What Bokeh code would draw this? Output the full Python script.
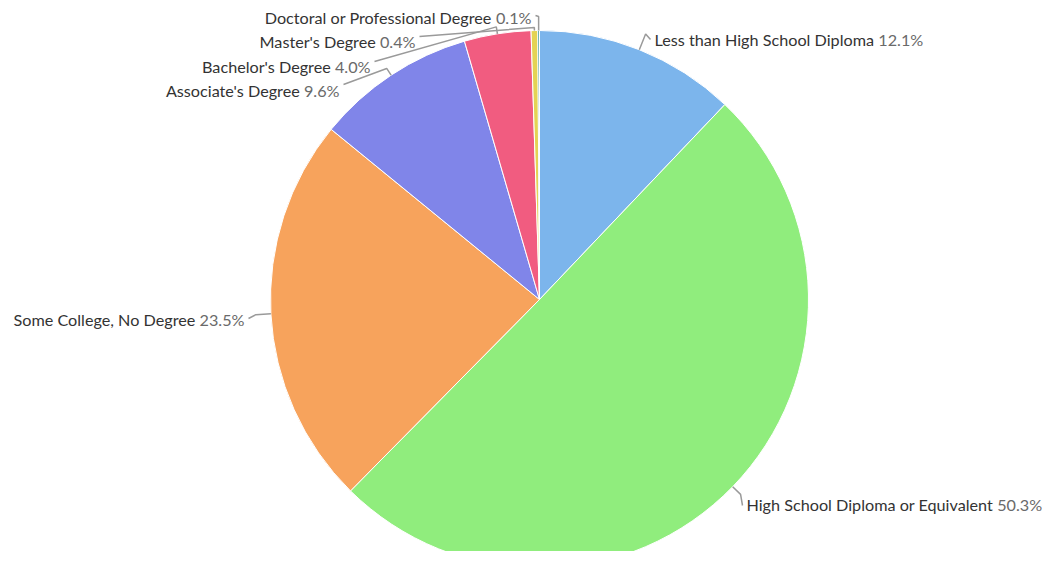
import math, glob
from bokeh.plotting import figure
from bokeh.models import Range1d, ColumnDataSource
from bokeh.core.properties import value
from bokeh.embed import file_html
from bokeh.resources import INLINE

# ---------------- data ----------------
categories = [
    "Less than High School Diploma",
    "High School Diploma or Equivalent",
    "Some College, No Degree",
    "Associate's Degree",
    "Bachelor's Degree",
    "Master's Degree",
    "Doctoral or Professional Degree",
]
shares = [12.1, 50.3, 23.5, 9.6, 4.0, 0.4, 0.1]
colors = ["#7cb5ec", "#90ed7d", "#f7a35c", "#8085e9", "#f15c80", "#e4d354", "#2b908f"]

# ---------------- layout ----------------
W, H = 1044, 551
CXp, CYp, R = 539, 299, 269          # picture pixel centre / radius
label_side = ["right", "right", "left", "left", "left", "left", "left"]
label_x = [654, 746, 244, 339, 370, 415, 531]      # text start (right side) / end (left side)
label_base = [39, 504, 319, 90, 65.5, 40.5, 16.5]  # baseline
conn_y = [39, 505, 318, 84, 61, 36, 15]            # connector end y
conn_out = [17, 11, 15, 8, 7, 3, 14]
FONT = "Lato"

def dx(px):
    return px

def dy(py):
    return H - py

# text width measurement
_font = None
try:
    from PIL import ImageFont
    files = glob.glob("/usr/share/fonts/**/Lato-Regular.ttf", recursive=True)
    if files:
        _font = ImageFont.truetype(files[0], 100)
except Exception:
    _font = None

def tw100(s):
    if _font is not None:
        return _font.getlength(s)
    return len(s) * 100 * 0.47

# choose size so the first label name spans the same width as in the reference
FS = round(220.0 * 100.0 / tw100(categories[0]), 1)
FS = max(14.0, min(FS, 19.0))

def tw(s):
    return tw100(s) * FS / 100.0

total = sum(shares)
cum = [0.0]
for s in shares:
    cum.append(cum[-1] + s)
starts = [math.pi / 2 - 2 * math.pi * cum[i] / total for i in range(len(shares))]
ends = [math.pi / 2 - 2 * math.pi * cum[i + 1] / total for i in range(len(shares))]

cx, cy = dx(CXp), dy(CYp)

src = ColumnDataSource(dict(start=starts, end=ends, color=colors, name=categories))

p = figure(width=W, height=H, x_range=Range1d(0, W), y_range=Range1d(0, H),
           output_backend="svg", toolbar_location=None,
           x_axis_location=None, y_axis_location=None, min_border=0)
p.grid.visible = False
p.outline_line_color = None
p.background_fill_color = "white"

p.wedge(x=cx, y=cy, radius=R, start_angle="start", end_angle="end", direction="clock",
        fill_color="color", line_color="white", line_width=1, source=src)

xs, ys = [], []
nx, ny, nt, na = [], [], [], []
px_, py_, pt, pa = [], [], [], []
for i, (cat, v) in enumerate(zip(categories, shares)):
    mid = (starts[i] + ends[i]) / 2
    ax, ay = cx + R * math.cos(mid), cy + R * math.sin(mid)
    bx, by = cx + (R + conn_out[i]) * math.cos(mid), cy + (R + conn_out[i]) * math.sin(mid)
    ly = dy(conn_y[i])
    pct = f"{v:.1f}%"
    base = dy(label_base[i])
    if label_side[i] == "right":
        x0 = dx(label_x[i])
        lx = x0 - 4
        nx.append(x0); ny.append(base); nt.append(cat); na.append("left")
        px_.append(x0 + tw(cat + " ")); py_.append(base); pt.append(pct); pa.append("left")
    else:
        x1 = dx(label_x[i])
        lx = x1 + 4
        px_.append(x1); py_.append(base); pt.append(pct); pa.append("right")
        nx.append(x1 - tw(" " + pct)); ny.append(base); nt.append(cat); na.append("right")
    xs.append([ax, bx, lx]); ys.append([ay, by, ly])

p.multi_line(xs=xs, ys=ys, line_color="#9a9a9a", line_width=1.5)

p.text(x=nx, y=ny, text=nt, text_align=na, text_baseline="alphabetic",
       text_font=value(FONT), text_font_size=value(f"{FS}px"), text_color="#333333")
p.text(x=px_, y=py_, text=pt, text_align=pa, text_baseline="alphabetic",
       text_font=value(FONT), text_font_size=value(f"{FS}px"), text_color="#6a6a6a")

open("out.html", "w").write(file_html(p, INLINE))
